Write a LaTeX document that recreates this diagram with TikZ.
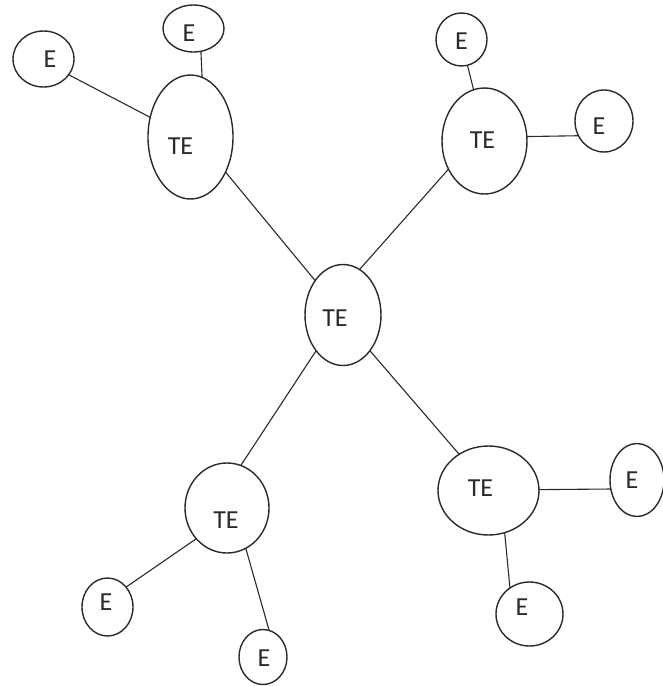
\documentclass[tikz,border=0pt]{standalone}
\usepackage{fontspec}
\setmainfont{Carlito}
\usetikzlibrary{shapes.geometric}
\definecolor{ink}{HTML}{2A2A2A}
\tikzset{
  bub/.style={ellipse, draw=ink, line width=1.4pt, inner sep=0pt, outer sep=0pt},
  txt/.style={font=\fontsize{26}{30}\selectfont, text=ink},
  wire/.style={draw=ink, line width=1.1pt},
}
\begin{document}
\begin{tikzpicture}[x=1pt,y=-1pt]
\useasboundingbox (0,0) rectangle (662,686);
% TE nodes
\node[bub, minimum width=85pt, minimum height=124pt, label={[txt,xshift=-10pt,yshift=-9pt]center:TE}] (tl) at (190.5,137) {};
\node[bub, minimum width=85pt, minimum height=106pt, label={[txt,xshift=-2pt,yshift=1pt]center:TE}] (tr) at (484.5,141) {};
\node[bub, minimum width=76pt, minimum height=101pt, label={[txt,xshift=-8pt,yshift=-3pt]center:TE}] (c) at (343,315) {};
\node[bub, minimum width=84pt, minimum height=90pt, label={[txt,xshift=-1pt,yshift=-12pt]center:TE}] (bl) at (227,508) {};
\node[bub, minimum width=101pt, minimum height=89pt, label={[txt,xshift=-8pt,yshift=2.5pt]center:TE}] (br) at (488.5,490.5) {};
% E nodes
\node[bub, minimum width=61pt, minimum height=56pt, label={[txt,xshift=6.5pt]center:E}] (e1) at (43.5,59) {};
\node[bub, minimum width=61pt, minimum height=47pt, label={[txt,xshift=-4.5pt,yshift=-4.5pt]center:E}] (e2) at (193.5,28.5) {};
\node[bub, minimum width=51pt, minimum height=53pt, label={[txt,yshift=-1.5pt]center:E}] (e3) at (461.5,39.5) {};
\node[bub, minimum width=58pt, minimum height=62pt, label={[txt,xshift=-5pt,yshift=-5pt]center:E}] (e4) at (604,121) {};
\node[bub, minimum width=51pt, minimum height=58pt, label={[txt,xshift=-1.5pt,yshift=5pt]center:E}] (e5) at (107.5,607) {};
\node[bub, minimum width=48pt, minimum height=55pt, label={[txt,xshift=1pt,yshift=-1pt]center:E}] (e6) at (263,657) {};
\node[bub, minimum width=54pt, minimum height=73pt, label={[txt,xshift=-5pt]center:E}] (e7) at (637,480) {};
\node[bub, minimum width=67pt, minimum height=64pt, label={[txt,xshift=-7.5pt,yshift=7pt]center:E}] (e8) at (529.5,614) {};
% connectors
\draw[wire] (e1.-32.7) -- (tl.154.9);
\draw[wire] (e2.-72.3) -- (tl.79.7);
\draw[wire] (tl.-45.4) -- (c.129.1);
\draw[wire] (e3.-77.8) -- (tr.102.1);
\draw[wire] (tr.6.6) -- (e4.210);
\draw[wire] (tr.218.2) -- (c.70);
\draw[wire] (c.233.6) -- (bl.72.8);
\draw[wire] (bl.225) -- (e5.47.4);
\draw[wire] (bl.-65.7) -- (e6.77.5);
\draw[wire] (c.-53.4) -- (br.129.1);
\draw[wire] (br.1.8) -- (e7.199.1);
\draw[wire] (br.-69.5) -- (e8.127.5);
\end{tikzpicture}
\end{document}
